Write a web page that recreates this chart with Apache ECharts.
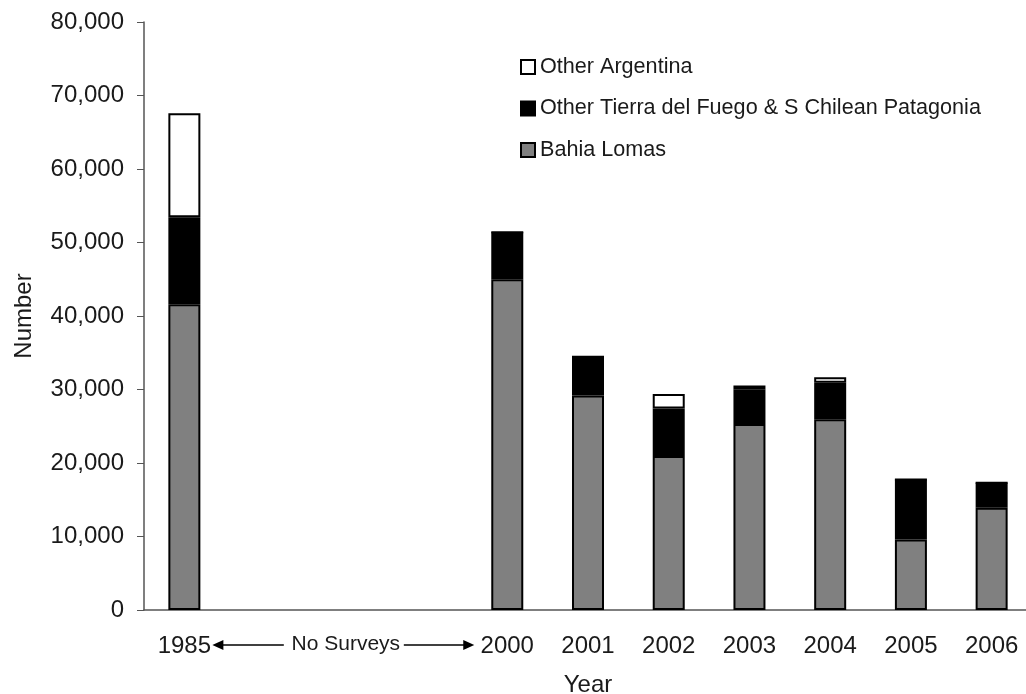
<!DOCTYPE html>
<html>
<head>
<meta charset="utf-8">
<script src="https://cdn.jsdelivr.net/npm/echarts@6/dist/echarts.min.js"></script>
<style>html,body{margin:0;padding:0;background:#fff;}#chart{width:1026px;height:694px;}</style>
</head>
<body>
<div id="chart"></div>
<script>
const categories = ['1985', 'gap1', 'gap2', 'gap3', '2000', '2001', '2002', '2003', '2004', '2005', '2006'];
const gapLabel = 'No Surveys';
const bahiaLomas = [41600, '-', '-', '-', 45000, 29200, 20950, 25300, 25950, 9600, 13900];
const otherTdf = [11850, '-', '-', '-', 6400, 5250, 6450, 4720, 4980, 8150, 3420];
const otherArgentina = [14150, '-', '-', '-', 0, 0, 2000, 540, 730, 0, 0];
const yTicks = [0, 80000, 10000];

const FONT = 'Liberation Sans, Arial, Helvetica, sans-serif';
const chart = echarts.init(document.getElementById('chart'));

function barSeries(name, data, color) {
  return {
    name: name, type: 'bar', stack: 'total', data: data, barWidth: 32,
    itemStyle: { color: color, borderColor: '#000', borderWidth: 2 },
    emphasis: { disabled: true }, animation: false
  };
}

chart.setOption({
  animation: false,
  backgroundColor: '#fff',
  textStyle: { fontFamily: FONT },
  grid: { left: 144, top: 22, width: 888, height: 588, containLabel: false, outerBoundsMode: 'none' },
  legend: {
    orient: 'vertical', left: 515, top: 51, itemWidth: 14, itemHeight: 14, itemGap: 19.5,
    icon: 'rect',
    data: ['Other Argentina', 'Other Tierra del Fuego & S Chilean Patagonia', 'Bahia Lomas'],
    textStyle: { fontFamily: FONT, fontSize: 21.6, color: '#1a1a1a' },
    itemStyle: { borderColor: '#000', borderWidth: 2 },
    selectedMode: false
  },
  xAxis: {
    type: 'category', data: categories,
    name: 'Year', nameLocation: 'middle', nameGap: 63,
    nameTextStyle: { fontFamily: FONT, fontSize: 24, color: '#1a1a1a' },
    axisLine: { lineStyle: { color: '#555', width: 1.5 } },
    axisTick: { show: false },
    axisLabel: {
      fontFamily: FONT, fontSize: 24, color: '#1a1a1a', margin: 24, interval: 0,
      formatter: function (v, i) { return v.indexOf('gap') === 0 ? (v === 'gap2' ? '{s|' + gapLabel + '}' : '') : v; },
      rich: { s: { fontFamily: FONT, fontSize: 21, color: '#1a1a1a' } }
    }
  },
  yAxis: {
    type: 'value', min: yTicks[0], max: yTicks[1], interval: yTicks[2],
    name: 'Number', nameLocation: 'middle', nameGap: 108,
    nameTextStyle: { fontFamily: FONT, fontSize: 24, color: '#1a1a1a' },
    axisLine: { show: true, lineStyle: { color: '#555', width: 1.5 } },
    axisTick: { show: true, length: 7, lineStyle: { color: '#555', width: 1 } },
    splitLine: { show: false },
    axisLabel: {
      fontFamily: FONT, fontSize: 24, color: '#1a1a1a', margin: 20,
      formatter: function (v) { return v.toString().replace(/\B(?=(\d{3})+(?!\d))/g, ','); }
    }
  },
  series: [
    barSeries('Bahia Lomas', bahiaLomas, '#808080'),
    barSeries('Other Tierra del Fuego & S Chilean Patagonia', otherTdf, '#000000'),
    barSeries('Other Argentina', otherArgentina, '#ffffff')
  ]
});

// Arrows around "No Surveys", positioned from the category axis
const c0 = chart.convertToPixel({ xAxisIndex: 0 }, categories[0]);
const c2 = chart.convertToPixel({ xAxisIndex: 0 }, categories[2]);
const c4 = chart.convertToPixel({ xAxisIndex: 0 }, categories[4]);
const y0 = chart.convertToPixel({ yAxisIndex: 0 }, 0);
const ay = y0 + 35;
const L1 = c0 + 28, L2 = c2 - 62, R1 = c2 + 58, R2 = c4 - 33;
chart.setOption({
  graphic: [
    { type: 'line', shape: { x1: L1 + 8, y1: ay, x2: L2, y2: ay }, style: { stroke: '#000', lineWidth: 1.5 }, silent: true },
    { type: 'polygon', shape: { points: [[L1, ay], [L1 + 11, ay - 5], [L1 + 11, ay + 5]] }, style: { fill: '#000' }, silent: true },
    { type: 'line', shape: { x1: R1, y1: ay, x2: R2 - 8, y2: ay }, style: { stroke: '#000', lineWidth: 1.5 }, silent: true },
    { type: 'polygon', shape: { points: [[R2, ay], [R2 - 11, ay - 5], [R2 - 11, ay + 5]] }, style: { fill: '#000' }, silent: true }
  ]
});
</script>
</body>
</html>
